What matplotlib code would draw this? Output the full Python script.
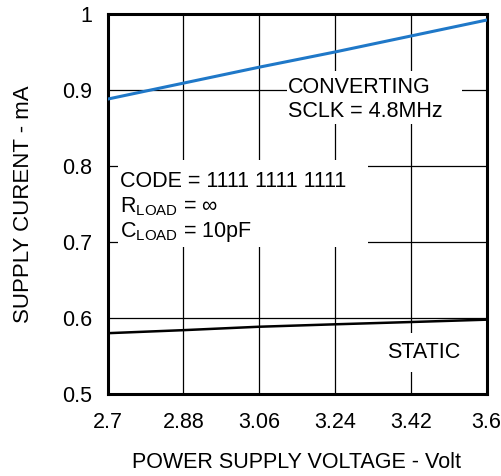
import matplotlib
matplotlib.use('Agg')
import matplotlib.pyplot as plt
from matplotlib.patches import Rectangle

# supply voltage (V) and supply current (mA)
volts = [2.7, 2.88, 3.06, 3.24, 3.42, 3.6]
i_converting = [0.888, 0.909, 0.930, 0.950, 0.971, 0.992]
i_static = [0.580, 0.584, 0.5885, 0.5917, 0.5947, 0.5978]

xticks = [2.7, 2.88, 3.06, 3.24, 3.42, 3.6]
xticklabels = ['2.7', '2.88', '3.06', '3.24', '3.42', '3.6']
yticks = [0.5, 0.6, 0.7, 0.8, 0.9, 1.0]
yticklabels = ['0.5', '0.6', '0.7', '0.8', '0.9', '1']

plt.rcParams['font.family'] = ['Liberation Sans', 'DejaVu Sans']
plt.rcParams['mathtext.fontset'] = 'custom'
plt.rcParams['mathtext.rm'] = 'Liberation Sans'

FS = 15.5

fig = plt.figure(figsize=(5.01, 4.76), dpi=100)
ax = fig.add_axes([107.5 / 501, 82 / 476, 379 / 501, 380 / 476])

ax.plot(volts, i_converting, color='#1f78c8', lw=2.2, zorder=3)
ax.plot(volts, i_static, color='black', lw=1.8, zorder=3)

ax.set_xlim(2.7, 3.6)
ax.set_ylim(0.5, 1.0)
ax.set_xticks(xticks)
ax.set_xticklabels(xticklabels)
ax.set_yticks(yticks)
ax.set_yticklabels(yticklabels)
ax.tick_params(axis='both', length=0, labelsize=FS)
ax.tick_params(axis='x', pad=13)
ax.tick_params(axis='y', pad=11)
ax.grid(True, color='black', lw=0.9)
for s in ax.spines.values():
    s.set_linewidth(2.2)

ax.set_xlabel('POWER SUPPLY VOLTAGE - Volt', fontsize=FS, labelpad=14)
ax.set_ylabel('SUPPLY CURENT - mA', fontsize=16, labelpad=20)

# white patches behind the notes (they break the grid)
ax.add_patch(Rectangle((3.127, 0.855), 0.414, 0.07, facecolor='white',
                       edgecolor='none', zorder=1.8))
ax.add_patch(Rectangle((2.725, 0.693), 0.594, 0.115, facecolor='white',
                       edgecolor='none', zorder=1.8))
ax.add_patch(Rectangle((3.359, 0.529), 0.19, 0.051, facecolor='white',
                       edgecolor='none', zorder=1.8))

ax.text(3.129, 0.888, 'CONVERTING\nSCLK = 4.8MHz', fontsize=FS, va='center',
        ha='left', linespacing=1.2, zorder=4)

ax.text(2.730, 0.780, 'CODE = 1111 1111 1111', fontsize=FS, va='center',
        ha='left', zorder=4)
ax.text(2.730, 0.746, r'R$_\mathregular{LOAD}$ = ∞', fontsize=FS, va='center',
        ha='left', zorder=4)
ax.text(2.730, 0.713, r'C$_\mathregular{LOAD}$ = 10pF', fontsize=FS, va='center',
        ha='left', zorder=4)

ax.text(3.364, 0.555, 'STATIC', fontsize=FS, va='center', ha='left', zorder=4)

fig.savefig('out.png', dpi=100)
